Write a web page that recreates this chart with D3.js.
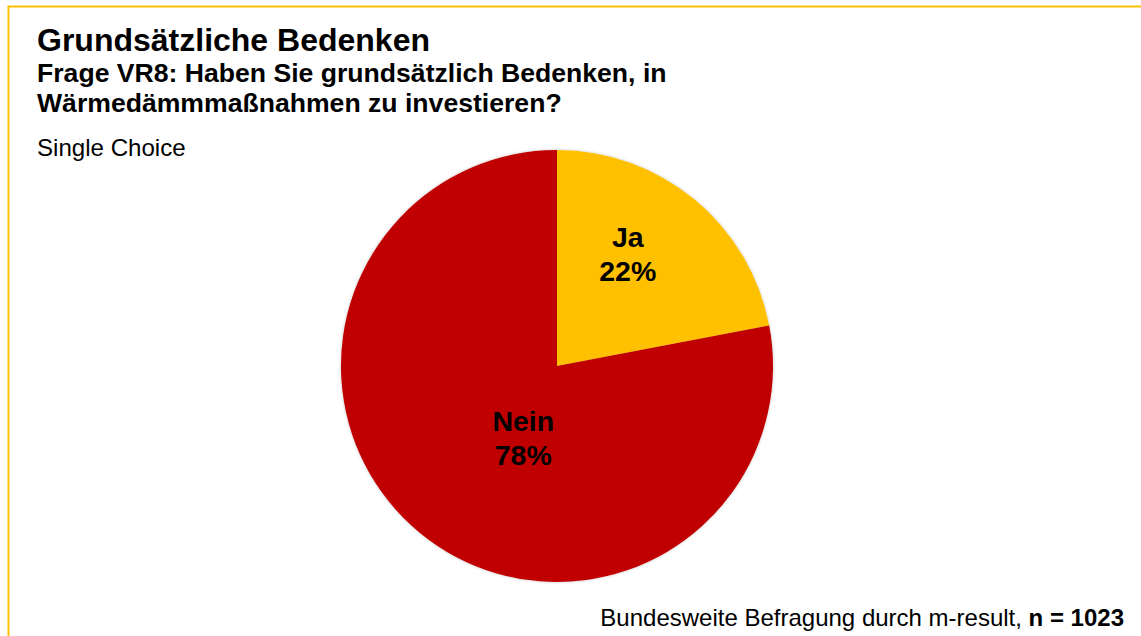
<!DOCTYPE html>
<html>
<head>
<meta charset="utf-8">
<script src="https://cdn.jsdelivr.net/npm/d3@7"></script>
<style>
  body { margin: 0; background: #fff; }
  svg { display: block; font-family: "Liberation Sans", Arial, sans-serif; }
</style>
</head>
<body>
<svg id="main-chart"></svg>
<script>
// data
const categories = ["Ja", "Nein"];
const shares = [22, 78];
const colors = ["#FFC000", "#C00000"];
const titleText = "Grundsätzliche Bedenken";
const questionLines = ["Frage VR8: Haben Sie grundsätzlich Bedenken, in", "Wärmedämmmaßnahmen zu investieren?"];
const choiceText = "Single Choice";
const sourceText = "Bundesweite Befragung durch m-result, ";
const sampleText = "n = 1023";

function drawChart(){
  const width = 1141;
  const height = 636;
  const cx = 557, cy = 366, radius = 216;

  const svg = d3.select("#main-chart")
    .attr("width", width)
    .attr("height", height);

  // frame (top + left yellow line)
  svg.append("path")
    .attr("d", `M8.5,${height} L8.5,6.5 L${width},6.5`)
    .attr("fill", "none")
    .attr("stroke", "#FFC000")
    .attr("stroke-width", 2);

  // titles
  svg.append("text")
    .attr("x", 37).attr("y", 51)
    .attr("font-size", "32px").attr("font-weight", "bold")
    .text(titleText);

  svg.selectAll(".question")
    .data(questionLines)
    .join("text")
    .attr("class", "question")
    .attr("x", 37)
    .attr("y", (d, i) => 82 + i * 30)
    .attr("font-size", "26.6px").attr("font-weight", "bold")
    .text(d => d);

  svg.append("text")
    .attr("x", 37).attr("y", 156)
    .attr("font-size", "24.1px")
    .text(choiceText);

  // soft edge round the pie
  const defs = svg.append("defs");
  const f = defs.append("filter").attr("id", "shadow")
    .attr("x", "-10%").attr("y", "-10%").attr("width", "120%").attr("height", "120%");
  f.append("feDropShadow")
    .attr("dx", 0).attr("dy", 0).attr("stdDeviation", 1.5)
    .attr("flood-color", "#000").attr("flood-opacity", 0.25);

  // pie
  const data = categories.map((c, i) => ({name: c, value: shares[i], color: colors[i]}));
  const pie = d3.pie().sort(null).value(d => d.value);
  const arc = d3.arc().innerRadius(0).outerRadius(radius);
  const labelArc = d3.arc().innerRadius(radius * 0.55).outerRadius(radius * 0.55);

  const g = svg.append("g").attr("transform", `translate(${cx},${cy})`);

  g.append("g")
    .attr("filter", "url(#shadow)")
    .selectAll("path")
    .data(pie(data))
    .join("path")
    .attr("d", arc)
    .attr("fill", d => d.data.color);

  // nudge of each label away from the centroid, like the original layout
  const labelShift = {Ja: [-5, -27], Nein: [42, -27]};
  const labels = g.selectAll(".lbl")
    .data(pie(data))
    .join("text")
    .attr("class", "lbl")
    .attr("text-anchor", "middle")
    .attr("font-size", "28.5px")
    .attr("font-weight", "bold")
    .attr("transform", d => {
      const [x, y] = labelArc.centroid(d);
      const [dx, dy] = labelShift[d.data.name];
      return `translate(${x + dx},${y + dy})`;
    });
  labels.append("tspan").attr("x", 0).attr("dy", 0).text(d => d.data.name);
  labels.append("tspan").attr("x", 0).attr("dy", 34).text(d => d.data.value + "%");

  // footer
  const foot = svg.append("text")
    .attr("x", 1124).attr("y", 626)
    .attr("text-anchor", "end")
    .attr("font-size", "24px");
  foot.append("tspan").text(sourceText);
  foot.append("tspan").attr("font-weight", "bold").text(sampleText);
}

drawChart();
</script>
</body>
</html>
